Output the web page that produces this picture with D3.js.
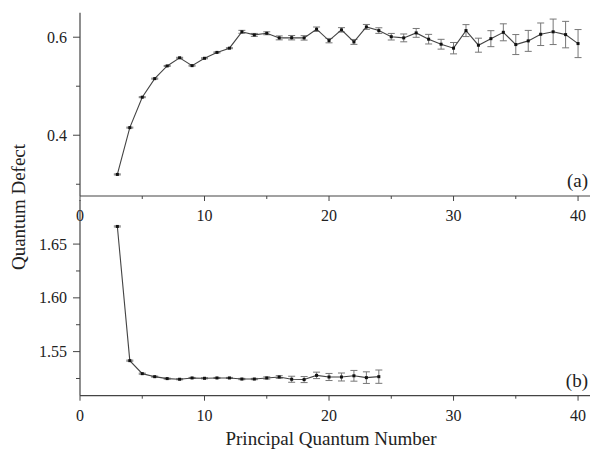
<!DOCTYPE html>
<html>
<head>
<meta charset="utf-8">
<script src="https://cdn.jsdelivr.net/npm/d3@7"></script>
<style>
  html, body { margin: 0; padding: 0; background: #fff; }
  svg { display: block; }
  text { font-family: "Liberation Serif", "Times New Roman", serif; fill: #222; }
</style>
</head>
<body>
<svg id="chart" width="590" height="449"></svg>
<script>
// Principal quantum numbers
const nA = d3.range(3, 41);
const nB = d3.range(3, 25);

// Panel (a) quantum defect values and uncertainties
const defectA = [0.320, 0.4155, 0.4776, 0.5155, 0.5414, 0.558, 0.542, 0.557, 0.569, 0.5776,
  0.611, 0.6047, 0.608, 0.5986, 0.599, 0.5986, 0.6163, 0.593, 0.615, 0.5904,
  0.621, 0.6135, 0.601, 0.5986, 0.6088, 0.596, 0.5857, 0.5776, 0.6135, 0.5837,
  0.597, 0.610, 0.585, 0.5925, 0.606, 0.611, 0.6053, 0.587];
const errorA = [0.001, 0.001, 0.001, 0.001, 0.001, 0.001, 0.001, 0.001, 0.001, 0.001,
  0.003, 0.003, 0.003, 0.004, 0.0045, 0.0045, 0.0045, 0.0045, 0.0045, 0.005,
  0.005, 0.0057, 0.0067, 0.008, 0.009, 0.0098, 0.010, 0.0116, 0.0122, 0.0143,
  0.0163, 0.0173, 0.0204, 0.0214, 0.023, 0.026, 0.027, 0.0286];

// Panel (b) quantum defect values and uncertainties
const defectB = [1.6664, 1.5416, 1.5295, 1.5267, 1.5249, 1.5243, 1.5255, 1.5252, 1.5255, 1.5255,
  1.5245, 1.5245, 1.5255, 1.5264, 1.5243, 1.524, 1.5279, 1.5264, 1.5264, 1.5275,
  1.5258, 1.5267];
const errorB = [0.0005, 0.0005, 0.0005, 0.0005, 0.0005, 0.0005, 0.0005, 0.0005, 0.0005, 0.0005,
  0.0006, 0.0006, 0.001, 0.0012, 0.0028, 0.0028, 0.003, 0.0033, 0.0037, 0.005,
  0.0054, 0.0062];

// Axis ticks
const xMajor = [0, 10, 20, 30, 40];
const xMinor = [5, 15, 25, 35];
const yMajorA = [0.4, 0.6];
const yMinorA = [0.3, 0.5];
const yMajorB = [1.55, 1.60, 1.65];
const yMinorB = [1.525, 1.575, 1.625];

const svg = d3.select("#chart");
const x = d3.scaleLinear().domain([0, 41]).range([80, 590.5]);

function panel(n, vals, errs, yDomain, yRange, yMajor, yMinor, fmt, tag) {
  const y = d3.scaleLinear().domain(yDomain).range(yRange);
  const g = svg.append("g");
  const y0 = yRange[0];

  // axis lines
  g.append("line").attr("x1", 80).attr("x2", 80).attr("y1", yRange[1]).attr("y2", y0)
    .attr("stroke", "#444").attr("stroke-width", 1.2);
  g.append("line").attr("x1", 80).attr("x2", 590).attr("y1", y0).attr("y2", y0)
    .attr("stroke", "#444").attr("stroke-width", 1.2);

  // x ticks
  g.selectAll(".xmaj").data(xMajor).join("line")
    .attr("x1", d => x(d)).attr("x2", d => x(d)).attr("y1", y0).attr("y2", y0 + 5)
    .attr("stroke", "#444");
  g.selectAll(".xmin").data(xMinor).join("line")
    .attr("x1", d => x(d)).attr("x2", d => x(d)).attr("y1", y0).attr("y2", y0 + 3)
    .attr("stroke", "#444");
  g.selectAll(".xlab").data(xMajor).join("text")
    .attr("x", d => x(d)).attr("y", y0 + 25).attr("text-anchor", "middle")
    .attr("font-size", 16).text(d => d);

  // y ticks
  g.selectAll(".ymaj").data(yMajor).join("line")
    .attr("x1", 73).attr("x2", 80).attr("y1", d => y(d)).attr("y2", d => y(d))
    .attr("stroke", "#444");
  g.selectAll(".ymin").data(yMinor).join("line")
    .attr("x1", 76).attr("x2", 80).attr("y1", d => y(d)).attr("y2", d => y(d))
    .attr("stroke", "#444");
  g.selectAll(".ylab").data(yMajor).join("text")
    .attr("x", 67).attr("y", d => y(d)).attr("dy", "0.35em").attr("text-anchor", "end")
    .attr("font-size", 16).text(d => d3.format(fmt)(d));

  const pts = n.map((k, i) => ({ n: k, v: vals[i], e: errs[i] }));

  // error bars
  const eb = g.append("g").attr("stroke", "#777").attr("stroke-width", 1);
  eb.selectAll(".ev").data(pts).join("line")
    .attr("x1", d => x(d.n)).attr("x2", d => x(d.n))
    .attr("y1", d => y(d.v - d.e)).attr("y2", d => y(d.v + d.e));
  eb.selectAll(".et").data(pts).join("line")
    .attr("x1", d => x(d.n) - 3.5).attr("x2", d => x(d.n) + 3.5)
    .attr("y1", d => y(d.v + d.e)).attr("y2", d => y(d.v + d.e));
  eb.selectAll(".eb").data(pts).join("line")
    .attr("x1", d => x(d.n) - 3.5).attr("x2", d => x(d.n) + 3.5)
    .attr("y1", d => y(d.v - d.e)).attr("y2", d => y(d.v - d.e));

  // line
  g.append("path").datum(pts)
    .attr("fill", "none").attr("stroke", "#444").attr("stroke-width", 1.1)
    .attr("d", d3.line().x(d => x(d.n)).y(d => y(d.v)));

  // markers
  g.selectAll(".pt").data(pts).join("rect")
    .attr("x", d => x(d.n) - 1.5).attr("y", d => y(d.v) - 1.5)
    .attr("width", 3).attr("height", 3).attr("fill", "#111");

  // panel tag
  g.append("text").attr("x", 588).attr("y", y0 - 9).attr("text-anchor", "end")
    .attr("font-size", 19).text(tag);
}

panel(nA, defectA, errorA, [0.276, 0.650], [196, 12.7], yMajorA, yMinorA, ".1f", "(a)");
panel(nB, defectB, errorB, [1.509, 1.691], [395.7, 200], yMajorB, yMinorB, ".2f", "(b)");

// axis titles
svg.append("text").attr("transform", "translate(25,207) rotate(-90)")
  .attr("text-anchor", "middle").attr("font-size", 19).text("Quantum Defect");
svg.append("text").attr("x", 331).attr("y", 445)
  .attr("text-anchor", "middle").attr("font-size", 19).text("Principal Quantum Number");
</script>
</body>
</html>
